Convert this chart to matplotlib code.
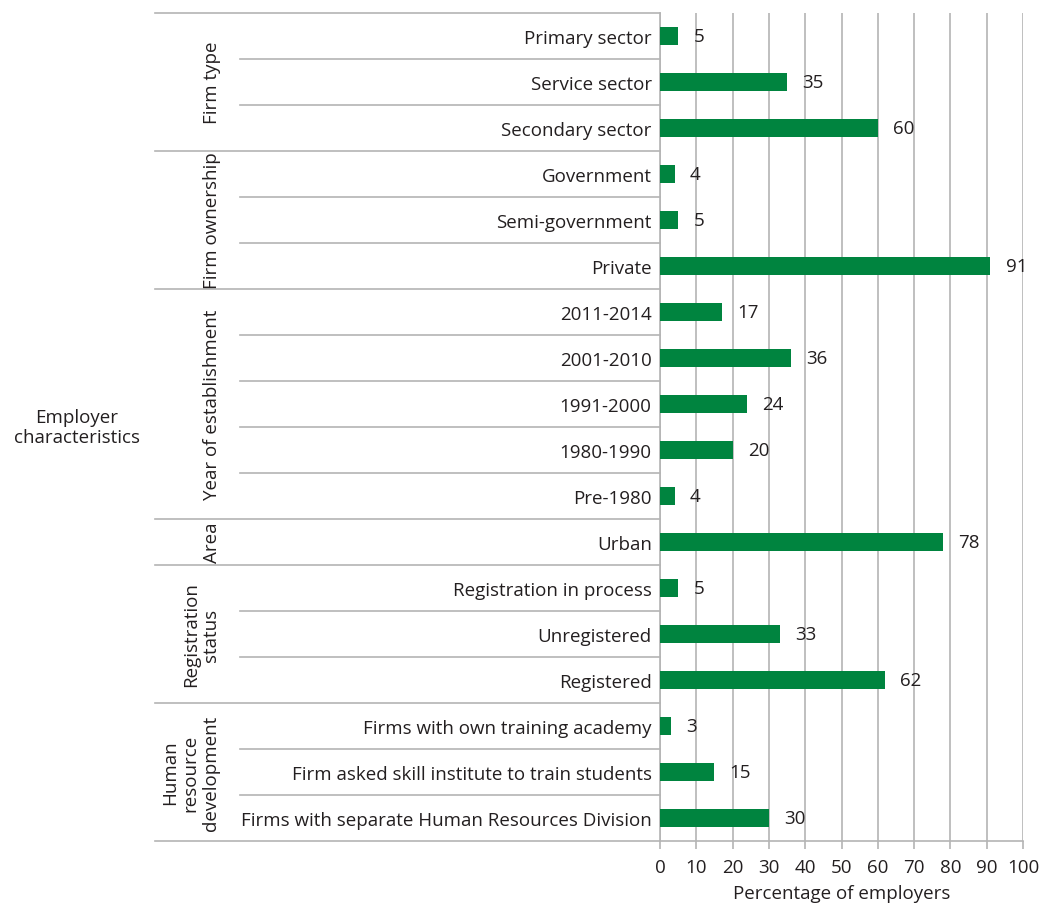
import matplotlib
matplotlib.use("Agg")
import matplotlib.pyplot as plt
import matplotlib.transforms as mtransforms

# Data
groups = ["Firm type", "Firm ownership", "Year of establishment", "Area",
          "Registration\nstatus", "Human\nresource\ndevelopment"]
group_sizes = [3, 3, 5, 1, 3, 3]
categories = ["Primary sector", "Service sector", "Secondary sector",
              "Government", "Semi-government", "Private",
              "2011-2014", "2001-2010", "1991-2000", "1980-1990", "Pre-1980",
              "Urban",
              "Registration in process", "Unregistered", "Registered",
              "Firms with own training academy",
              "Firm asked skill institute to train students",
              "Firms with separate Human Resources Division"]
values = [5, 35, 60, 4, 5, 91, 17, 36, 24, 20, 4, 78, 5, 33, 62, 3, 15, 30]
xticks = list(range(0, 101, 10))

bar_color = "#00843f"
grid_color = "#b4b4b4"
text_color = "#231f20"
fs = 13.5
plt.rcParams['font.family'] = ['Open Sans', 'DejaVu Sans']

fig = plt.figure(figsize=(10.49, 9.04), dpi=100)
ax = fig.add_axes([660 / 1049, 1 - 842 / 904, 363 / 1049, 828 / 904])

ypos = list(range(len(categories)))
ax.barh(ypos, values, height=0.41, color=bar_color, zorder=3)
for y, v in zip(ypos, values):
    ax.annotate(str(v), (v, y), xytext=(11, 0), textcoords="offset points",
                va="center", ha="left", fontsize=fs, color=text_color, zorder=4)

ax.set_xlim(0, 100)
ax.set_ylim(len(categories) - 0.5, -0.5)
ax.set_xticks(xticks)
ax.set_yticks(ypos)
ax.set_yticklabels(categories, fontsize=fs, color=text_color)
ax.tick_params(axis="y", length=0, pad=6)
ax.tick_params(axis="x", length=6, width=1.2, color=grid_color,
               labelsize=fs, labelcolor=text_color, pad=6)
ax.xaxis.grid(True, color=grid_color, linewidth=1.2, zorder=0)
ax.set_axisbelow(True)
for s in ["top", "right"]:
    ax.spines[s].set_visible(False)
for s in ["left", "bottom"]:
    ax.spines[s].set_color(grid_color)
    ax.spines[s].set_linewidth(1.2)
ax.set_xlabel("Percentage of employers", fontsize=fs, color=text_color, labelpad=6)

# Hierarchical separators on the left
trans = mtransforms.blended_transform_factory(ax.transAxes, ax.transData)
x_outer = (155 - 660) / 363
x_inner = (240 - 660) / 363
line_px = 21.5
start = 0
boundaries = [-0.5]
for g, n in zip(groups, group_sizes):
    for k in range(1, n):
        yb = start + k - 0.5
        ax.plot([x_inner, 0], [yb, yb], transform=trans, color=grid_color,
                linewidth=1.2, clip_on=False)
    yb = start + n - 0.5
    boundaries.append(yb)
    cx = 212 - g.count("\n") * line_px / 2
    ax.text((cx - 660) / 363, start + (n - 1) / 2, g, transform=trans, rotation=90,
            ha="center", va="center", fontsize=fs, color=text_color,
            linespacing=1.15, multialignment="center")
    start += n
for yb in boundaries:
    ax.plot([x_outer, 0], [yb, yb], transform=trans, color=grid_color,
            linewidth=1.2, clip_on=False)

fig.text(77 / 1049, 1 - 428 / 904, "Employer\ncharacteristics", ha="center",
         va="center", fontsize=fs, color=text_color, linespacing=1.1)

fig.savefig("out.png", dpi=100)
